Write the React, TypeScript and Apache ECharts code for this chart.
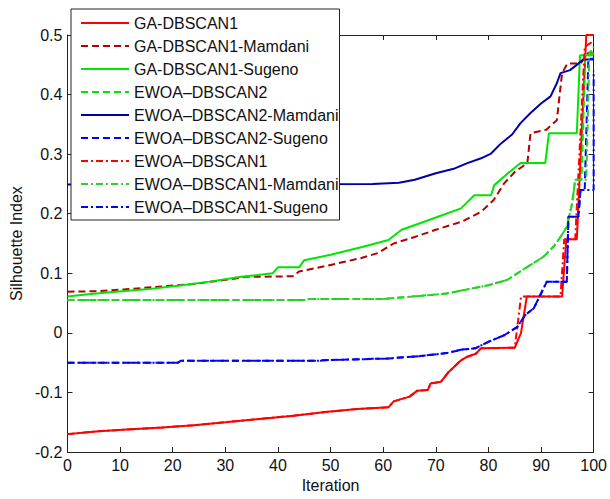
import React, { useEffect, useRef } from "react";
import * as echarts from "echarts";

// [iteration, silhouette index] pairs
const gaDbscan1: [number, number][] = [
  [0, -0.170], [6, -0.165], [12, -0.162], [18, -0.159], [24, -0.155], [30, -0.150],
  [37, -0.144], [43, -0.139], [49, -0.133], [55, -0.128], [61, -0.125], [62, -0.115],
  [65, -0.107], [66.5, -0.097], [68.5, -0.096], [69, -0.085], [71, -0.082], [72.3, -0.067],
  [73.6, -0.056], [74.8, -0.046], [76, -0.040], [77.6, -0.035], [78.6, -0.026], [85, -0.025],
  [86.2, 0.0], [87.3, 0.061], [94, 0.061], [94.8, 0.157], [96.8, 0.157], [98.6, 0.5], [100, 0.5],
];
const gaDbscan1Mamdani: [number, number][] = [
  [0, 0.069], [6, 0.070], [11, 0.073], [18, 0.078], [24, 0.082], [30, 0.089], [34, 0.094],
  [43, 0.095], [44, 0.103], [49, 0.112], [52, 0.118], [56, 0.126], [59, 0.134], [62, 0.150],
  [66, 0.161], [70, 0.173], [75, 0.187], [78.6, 0.203], [81, 0.223], [83, 0.251], [85, 0.270],
  [87.4, 0.285], [88, 0.335], [91, 0.341], [93, 0.357], [94, 0.436], [95, 0.452], [97.5, 0.452],
  [99, 0.47], [100, 0.47],
];
const gaDbscan1Sugeno: [number, number][] = [
  [0, 0.061], [3, 0.064], [8, 0.068], [15, 0.073], [21, 0.079], [27, 0.086], [33, 0.094],
  [39, 0.100], [40, 0.110], [44, 0.110], [45, 0.122], [50, 0.131], [56, 0.144], [61, 0.156],
  [63.5, 0.173], [67, 0.184], [70.4, 0.195], [74.8, 0.209], [77.3, 0.231], [80.5, 0.231],
  [81.1, 0.248], [83.6, 0.267], [86.1, 0.285], [90.8, 0.285], [91.5, 0.335], [96.8, 0.335],
  [97.4, 0.466], [100, 0.466],
];
const ewoaDbscan2: [number, number][] = [
  [0, 0.055], [45, 0.055], [46, 0.057], [60, 0.057], [67, 0.062], [72, 0.066], [76, 0.073],
  [80, 0.080], [83.6, 0.089], [85.5, 0.100], [88, 0.114], [90.5, 0.128], [92.4, 0.145],
  [93.7, 0.161], [94.9, 0.178], [95.9, 0.217], [96.5, 0.257], [97.7, 0.257], [98.4, 0.464],
  [100, 0.47],
];
const ewoaDbscan2Mamdani: [number, number][] = [
  [0, 0.249], [58, 0.250], [63, 0.252], [66, 0.257], [70, 0.268], [73.6, 0.276], [76, 0.285],
  [78.6, 0.293], [80.5, 0.301], [82.4, 0.318], [84.5, 0.333], [86.1, 0.352], [88, 0.369],
  [90, 0.385], [91.8, 0.397], [93, 0.419], [93.7, 0.436], [95.5, 0.441], [97.1, 0.452],
  [98, 0.459], [100, 0.459],
];
const ewoaDbscan2Sugeno: [number, number][] = [
  [0, -0.050], [21, -0.050], [21.5, -0.047], [48, -0.047], [48.5, -0.046], [61, -0.043],
  [67, -0.039], [72, -0.034], [75, -0.028], [77.5, -0.026], [80, -0.015], [83, -0.004],
  [85.5, 0.010], [87, 0.030], [88.6, 0.041], [90, 0.066], [91.1, 0.086], [94.9, 0.086],
  [95.2, 0.195], [97.1, 0.195], [97.5, 0.240], [98.3, 0.240], [99, 0.46], [100, 0.46],
];
const ewoaDbscan1: [number, number][] = [
  [0, -0.170], [6, -0.165], [12, -0.162], [18, -0.159], [24, -0.155], [30, -0.150],
  [37, -0.144], [43, -0.139], [49, -0.133], [55, -0.128], [61, -0.125], [62, -0.115],
  [65, -0.107], [66.5, -0.097], [68.5, -0.096], [69, -0.085], [71, -0.082], [72.3, -0.067],
  [73.6, -0.056], [74.8, -0.046], [76, -0.040], [77.6, -0.035], [78.6, -0.026], [85, -0.025],
  [86.2, 0.061], [93.7, 0.061], [94.4, 0.157], [96.5, 0.157], [98.3, 0.48], [100, 0.49],
];
const ewoaDbscan1Mamdani: [number, number][] = [
  [0, 0.055], [45, 0.055], [46, 0.057], [60, 0.057], [67, 0.062], [72, 0.066], [76, 0.073],
  [80, 0.080], [83.6, 0.089], [85.5, 0.100], [88, 0.114], [90.5, 0.128], [92.4, 0.145],
  [93.7, 0.161], [94.9, 0.178], [95.9, 0.217], [96.5, 0.257], [98.6, 0.257], [99.2, 0.47],
  [100, 0.48],
];
const ewoaDbscan1Sugeno: [number, number][] = [
  [0, -0.050], [21, -0.050], [21.5, -0.047], [48, -0.047], [48.5, -0.046], [61, -0.043],
  [67, -0.039], [72, -0.034], [75, -0.028], [77.5, -0.026], [80, -0.015], [83, -0.004],
  [85.5, 0.010], [87, 0.030], [88.6, 0.041], [90, 0.066], [91.1, 0.086], [94.9, 0.086],
  [95.2, 0.195], [97.1, 0.195], [97.5, 0.240], [100, 0.240], [100, 0.44],
];

const seriesNames = [
  "GA-DBSCAN1",
  "GA-DBSCAN1-Mamdani",
  "GA-DBSCAN1-Sugeno",
  "EWOA\u2013DBSCAN2",
  "EWOA\u2013DBSCAN2-Mamdani",
  "EWOA\u2013DBSCAN2-Sugeno",
  "EWOA\u2013DBSCAN1",
  "EWOA\u2013DBSCAN1-Mamdani",
  "EWOA\u2013DBSCAN1-Sugeno",
];
const seriesData = [
  gaDbscan1, gaDbscan1Mamdani, gaDbscan1Sugeno, ewoaDbscan2, ewoaDbscan2Mamdani,
  ewoaDbscan2Sugeno, ewoaDbscan1, ewoaDbscan1Mamdani, ewoaDbscan1Sugeno,
];
const DASH = [7, 4];
const DASHDOT = [7, 3, 2, 3];
const seriesStyles: { color: string; type: any }[] = [
  { color: "#ff0000", type: "solid" },
  { color: "#b40000", type: DASH },
  { color: "#00e600", type: "solid" },
  { color: "#00e600", type: DASH },
  { color: "#0000a8", type: "solid" },
  { color: "#0000ff", type: DASH },
  { color: "#ff0000", type: DASHDOT },
  { color: "#33cc33", type: DASHDOT },
  { color: "#0000ff", type: DASHDOT },
];

const FONT = "'Liberation Sans', Arial, sans-serif";

export default function App() {
  const ref = useRef<HTMLDivElement>(null);
  useEffect(() => {
    if (!ref.current) return;
    const chart = echarts.init(ref.current, null, { renderer: "svg" });
    const axisLine = { show: true, onZero: false, lineStyle: { color: "#222", width: 1 } };
    const tickIn = { show: true, inside: true, length: 5, lineStyle: { color: "#222", width: 1 } };
    chart.setOption({
      animation: false,
      backgroundColor: "#ffffff",
      textStyle: { fontFamily: FONT },
      grid: { left: 67, right: 13, top: 35, bottom: 47, containLabel: false },
      legend: {
        orient: "vertical",
        left: 71,
        top: 9,
        padding: [6, 1, 5, 9],
        itemWidth: 48,
        itemHeight: 16,
        itemGap: 7,
        backgroundColor: "#ffffff",
        borderColor: "#222",
        borderWidth: 1,
        borderRadius: 0,
        z: 10,
        itemStyle: { opacity: 0 },
        textStyle: { fontSize: 16, color: "#111", fontFamily: FONT, lineHeight: 16 },
        data: seriesNames,
      },
      xAxis: [
        {
          type: "value", min: 0, max: 100, interval: 10, position: "bottom",
          axisLine, axisTick: tickIn, splitLine: { show: false },
          axisLabel: { fontSize: 16, color: "#111", margin: 5, fontFamily: FONT },
          name: "Iteration", nameLocation: "middle", nameGap: 24,
          nameTextStyle: { fontSize: 16, color: "#111", fontFamily: FONT },
        },
        {
          type: "value", min: 0, max: 100, interval: 10, position: "top",
          axisLine, axisTick: tickIn, splitLine: { show: false }, axisLabel: { show: false },
        },
      ],
      yAxis: [
        {
          type: "value", min: -0.2, max: 0.5, interval: 0.1, position: "left",
          axisLine, axisTick: tickIn, splitLine: { show: false },
          axisLabel: { fontSize: 16, color: "#111", margin: 5, fontFamily: FONT },
          name: "Silhouette Index", nameLocation: "middle", nameGap: 42, nameRotate: 90,
          nameTextStyle: { fontSize: 16, color: "#111", fontFamily: FONT },
        },
        {
          type: "value", min: -0.2, max: 0.5, interval: 0.1, position: "right",
          axisLine, axisTick: tickIn, splitLine: { show: false }, axisLabel: { show: false },
        },
      ],
      series: seriesNames.map((name, i) => ({
        name,
        type: "line",
        xAxisIndex: 0,
        yAxisIndex: 0,
        data: seriesData[i],
        symbol: "none",
        showSymbol: false,
        clip: true,
        color: seriesStyles[i].color,
        lineStyle: { color: seriesStyles[i].color, width: 2, type: seriesStyles[i].type },
      })),
    });
    return () => chart.dispose();
  }, []);
  return <div ref={ref} style={{ width: 610, height: 499, position: "absolute", left: 0, top: 0 }} />;
}
